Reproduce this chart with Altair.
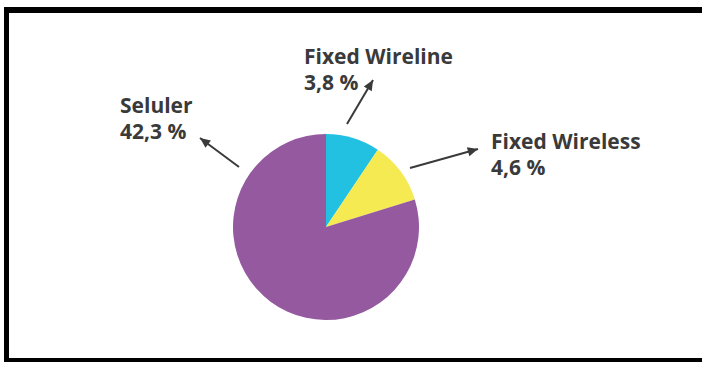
import math
import altair as alt
import pandas as pd

# ---- data ----
categories = ["Fixed Wireline", "Fixed Wireless", "Seluler"]
slice_share = [9.4, 10.8, 79.8]          # slice sizes as drawn (percent of the circle)
pct_labels = ["3,8 %", "4,6 %", "42,3 %"]
colors = ["#22C1E1", "#F5EA52", "#94599F"]

# ---- layout (pixels) ----
W, H = 702, 365
CX, CY, R = 326, 227, 93
FONT = "Open Sans"
FS = 21
TEXT_COLOR = "#3a3a3a"
# name x, name baseline, arrow tail (x,y), arrow tip (x,y)
label_layout = {
    "Fixed Wireline": (304, 64, (347, 124), (373, 80)),
    "Fixed Wireless": (491, 149, (410, 168), (478, 149)),
    "Seluler": (120, 113, (239, 167), (200, 138)),
}

xs = alt.Scale(domain=[0, W], range=[0, W])
ys = alt.Scale(domain=[0, H], range=[0, H])

pie_df = pd.DataFrame({"cat": categories, "share": slice_share, "ord": list(range(len(categories)))})
pie = alt.Chart(pie_df).mark_arc(radius=R).encode(
    theta=alt.Theta("share:Q", stack=True),
    order=alt.Order("ord:Q"),
    color=alt.Color("cat:N", scale=alt.Scale(domain=categories, range=colors), legend=None),
    x=alt.value(CX),
    y=alt.value(CY),
)

text_rows, arrow_rows = [], []
for cat, pct in zip(categories, pct_labels):
    lx, nb, tail, tip = label_layout[cat]
    text_rows.append({"t": cat + "\n" + pct, "px": lx, "py": nb})
    dx, dy = tip[0] - tail[0], tip[1] - tail[1]
    ang = math.degrees(math.atan2(dx, -dy)) % 360
    arrow_rows.append({"x1": tail[0], "y1": tail[1], "x2": tip[0], "y2": tip[1], "ang": ang})

text_df = pd.DataFrame(text_rows)
arrow_df = pd.DataFrame(arrow_rows)

texts = alt.Chart(text_df).mark_text(
    align="left", baseline="alphabetic", font=FONT, fontSize=FS, fontWeight="bold",
    color=TEXT_COLOR, lineBreak="\n", lineHeight=25.5
).encode(
    x=alt.X("px:Q", scale=xs, axis=None),
    y=alt.Y("py:Q", scale=ys, axis=None),
    text="t:N",
)

lines = alt.Chart(arrow_df).mark_rule(color=TEXT_COLOR, strokeWidth=2).encode(
    x=alt.X("x1:Q", scale=xs, axis=None),
    y=alt.Y("y1:Q", scale=ys, axis=None),
    x2="x2:Q",
    y2="y2:Q",
)

heads = alt.Chart(arrow_df).mark_point(
    shape="M0,0L-0.45,1L0.45,1Z", filled=True, size=420, opacity=1, color=TEXT_COLOR, strokeWidth=0
).encode(
    x=alt.X("x2:Q", scale=xs, axis=None),
    y=alt.Y("y2:Q", scale=ys, axis=None),
    angle=alt.Angle("ang:Q", scale=None),
)

one = pie_df.head(1)
frame_top = alt.Chart(one).mark_rect(color="black").encode(
    x=alt.value(4), x2=alt.value(W + 10), y=alt.value(7), y2=alt.value(13)
)
frame_left = alt.Chart(one).mark_rect(color="black").encode(
    x=alt.value(4), x2=alt.value(9), y=alt.value(7), y2=alt.value(362)
)
frame_bottom = alt.Chart(one).mark_rect(color="black").encode(
    x=alt.value(4), x2=alt.value(W + 10), y=alt.value(358), y2=alt.value(362)
)

chart = alt.layer(
    frame_top, frame_left, frame_bottom, pie, lines, heads, texts
).properties(
    width=W, height=H, autosize=alt.AutoSizeParams(type="none"), padding=0, background="white"
).configure_view(strokeWidth=0)

chart.save("out.html", embed_options={"renderer": "svg", "actions": False})
